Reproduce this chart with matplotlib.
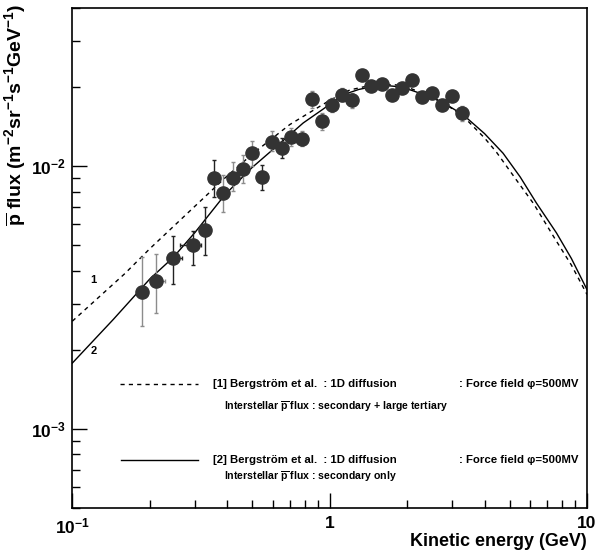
import matplotlib
matplotlib.use("Agg")
import matplotlib.pyplot as plt
import numpy as np

plt.rcParams['font.family'] = ['Liberation Sans', 'DejaVu Sans']
plt.rcParams['font.weight'] = 'bold'
plt.rcParams['mathtext.fontset'] = 'custom'
plt.rcParams['mathtext.rm'] = 'Liberation Sans:bold'
plt.rcParams['mathtext.it'] = 'Liberation Sans:bold:italic'
plt.rcParams['mathtext.bf'] = 'Liberation Sans:bold'

# data points, gray error bars (GeV, m^-2 sr^-1 s^-1 GeV^-1)
e_gray = [0.186, 0.211, 0.386, 0.421, 0.459, 0.501, 0.597, 0.710, 0.778,
          0.851, 0.930, 1.017, 1.112, 1.216, 1.330, 1.454, 1.595, 1.740,
          1.902, 2.085, 2.287, 2.509, 2.740, 2.991, 3.271]
f_gray = [3.32e-3, 3.64e-3, 7.91e-3, 9.02e-3, 9.78e-3, 1.121e-2, 1.236e-2,
          1.291e-2, 1.269e-2, 1.806e-2, 1.480e-2, 1.709e-2, 1.867e-2,
          1.779e-2, 2.228e-2, 2.012e-2, 2.056e-2, 1.862e-2, 1.983e-2,
          2.120e-2, 1.829e-2, 1.898e-2, 1.713e-2, 1.853e-2, 1.593e-2]
f_gray_lo = [2.46e-3, 2.75e-3, 6.71e-3, 8.02e-3, 8.63e-3, 1.0e-2, 1.138e-2,
             1.190e-2, 1.190e-2, 1.665e-2, 1.377e-2, 1.602e-2, 1.764e-2,
             1.669e-2, 2.120e-2, 1.93e-2, 1.97e-2, 1.78e-2, 1.90e-2,
             2.03e-2, 1.75e-2, 1.82e-2, 1.64e-2, 1.77e-2, 1.480e-2]
f_gray_hi = [4.50e-3, 4.65e-3, 9.24e-3, 1.038e-2, 1.106e-2, 1.243e-2, 1.356e-2,
             1.397e-2, 1.356e-2, 1.925e-2, 1.597e-2, 1.816e-2, 1.983e-2,
             1.904e-2, 2.328e-2, 2.10e-2, 2.14e-2, 1.94e-2, 2.07e-2,
             2.21e-2, 1.91e-2, 1.98e-2, 1.79e-2, 1.93e-2, 1.688e-2]
e_gray_lo = [0.178, 0.2003, 0.380, 0.415, 0.453, 0.495, 0.590, 0.702, 0.770,
             0.843, 0.921, 1.007, 1.102, 1.205, 1.318, 1.441, 1.581, 1.725,
             1.885, 2.066, 2.266, 2.486, 2.715, 2.964, 3.241]
e_gray_hi = [0.194, 0.2291, 0.392, 0.427, 0.465, 0.507, 0.604, 0.718, 0.786,
             0.859, 0.939, 1.027, 1.122, 1.227, 1.342, 1.467, 1.609, 1.755,
             1.919, 2.104, 2.308, 2.532, 2.765, 3.018, 3.301]

# data points, black error bars
e_black = [0.247, 0.295, 0.328, 0.355, 0.547, 0.650]
f_black = [4.46e-3, 5.00e-3, 5.74e-3, 9.00e-3, 9.10e-3, 1.173e-2]
f_black_lo = [3.57e-3, 4.20e-3, 4.58e-3, 7.64e-3, 8.14e-3, 1.075e-2]
f_black_hi = [5.44e-3, 5.68e-3, 6.97e-3, 1.056e-2, 1.013e-2, 1.280e-2]
e_black_lo = [0.2326, 0.2619, 0.323, 0.350, 0.541, 0.643]
e_black_hi = [0.2674, 0.316, 0.333, 0.360, 0.553, 0.657]

# model curves: [1] secondary + large tertiary, [2] secondary only
e_curve1 = [0.10, 0.16, 0.20, 0.30, 0.392, 0.505, 0.70, 1.0, 1.198, 1.5,
            1.8, 2.0, 2.45, 2.8, 3.30, 4.0, 4.45, 5.3, 6.2, 7.5, 8.7, 10.0]
f_curve1 = [2.57e-3, 3.90e-3, 4.85e-3, 7.05e-3, 9.02e-3, 1.12e-2, 1.44e-2,
            1.78e-2, 1.95e-2, 2.05e-2, 2.04e-2, 2.00e-2, 1.85e-2, 1.73e-2,
            1.55e-2, 1.28e-2, 1.13e-2, 8.9e-3, 7.2e-3, 5.3e-3, 4.2e-3, 3.25e-3]
e_curve2 = [0.10, 0.1443, 0.20, 0.247, 0.30, 0.392, 0.50, 0.622, 0.789,
            0.944, 1.128, 1.30, 1.476, 1.638, 1.819, 2.0, 2.45, 2.8, 3.30,
            4.0, 4.72, 5.5, 6.36, 7.61, 8.7, 10.0]
f_curve2 = [1.78e-3, 2.61e-3, 3.72e-3, 4.50e-3, 5.60e-3, 7.79e-3, 9.89e-3,
            1.19e-2, 1.46e-2, 1.65e-2, 1.87e-2, 1.96e-2, 2.01e-2, 2.03e-2,
            2.01e-2, 1.97e-2, 1.84e-2, 1.73e-2, 1.57e-2, 1.33e-2, 1.12e-2,
            9.1e-3, 7.24e-3, 5.57e-3, 4.45e-3, 3.39e-3]

fig = plt.figure(figsize=(5.96, 5.59), dpi=100)
ax = fig.add_axes([72.3/596, 1 - 508/559, (587 - 72.3)/596, (508 - 8)/559])

ax.plot(e_curve1, f_curve1, color='black', lw=1.0, ls=(0, (3, 3)))
ax.plot(e_curve2, f_curve2, color='black', lw=1.0)


def draw_points(e, f, flo, fhi, elo, ehi, ecol):
    e = np.array(e)
    f = np.array(f)
    yerr = [f - np.array(flo), np.array(fhi) - f]
    xerr = [e - np.array(elo), np.array(ehi) - e]
    ax.errorbar(e, f, yerr=yerr, xerr=xerr, fmt='o', ms=9.5,
                mfc='#333333', mec='#333333', ecolor=ecol, elinewidth=1.0,
                capsize=1.5, capthick=1.0, zorder=3)


draw_points(e_gray, f_gray, f_gray_lo, f_gray_hi, e_gray_lo, e_gray_hi, '#8c8c8c')
draw_points(e_black, f_black, f_black_lo, f_black_hi, e_black_lo, e_black_hi, '#222222')

ax.set_xscale('log')
ax.set_yscale('log')
ax.set_xlim(0.1, 10)
ax.set_ylim(5e-4, 4e-2)

ax.set_xticks([0.1, 1, 10])
ax.set_xticklabels([r'$10^{-1}$', '1', '10'])
ax.set_yticks([1e-3, 1e-2])
ax.set_yticklabels([r'$10^{-3}$', r'$10^{-2}$'])
ax.tick_params(which='both', direction='in', top=False, right=False,
               labelsize=12.5, width=1.0)
ax.tick_params(which='major', length=11, pad=5)
ax.tick_params(which='minor', length=5.5)
ax.tick_params(axis='x', which='major', pad=6)
ax.xaxis.set_minor_formatter(matplotlib.ticker.NullFormatter())
ax.yaxis.set_minor_formatter(matplotlib.ticker.NullFormatter())
for sp in ax.spines.values():
    sp.set_linewidth(1.2)

ax.text(0.1207, 3.70e-3, '1', fontsize=8, fontweight='bold', ha='center', va='center')
ax.text(0.1207, 1.98e-3, '2', fontsize=8, fontweight='bold', ha='center', va='center')

# legend drawn by hand like the original
ax.plot([0.0927, 0.244], [0.248, 0.248], transform=ax.transAxes, color='black',
        lw=1.0, ls=(0, (3, 3)))
ax.plot([0.0937, 0.244], [0.096, 0.096], transform=ax.transAxes, color='black', lw=1.0)
for yy, num in [(0.248, '1'), (0.096, '2')]:
    ax.text(0.2734, yy, '[%s] Bergström et al.  : 1D diffusion' % num,
            transform=ax.transAxes, fontsize=8.2, fontweight='bold', va='center')
    ax.text(0.752, yy, ': Force field φ=500MV', transform=ax.transAxes,
            fontsize=8.2, fontweight='bold', va='center')
ax.text(0.2947, 0.202, r'Interstellar $\overline{\mathrm{p}}$ flux : secondary + large tertiary',
        transform=ax.transAxes, fontsize=7.6, fontweight='bold', va='center')
ax.text(0.2947, 0.062, r'Interstellar $\overline{\mathrm{p}}$ flux : secondary only',
        transform=ax.transAxes, fontsize=7.6, fontweight='bold', va='center')

fig.text(587/596, 1 - 541/559, 'Kinetic energy (GeV)', fontsize=13,
         fontweight='bold', ha='right', va='center')
fig.text(16/596, 1 - 4/559,
         r'$\overline{\mathrm{p}}$ flux (m$^{-2}$sr$^{-1}$s$^{-1}$GeV$^{-1}$)',
         fontsize=14, fontweight='bold', rotation=90, ha='center', va='top')

fig.savefig('out.png', dpi=100)
